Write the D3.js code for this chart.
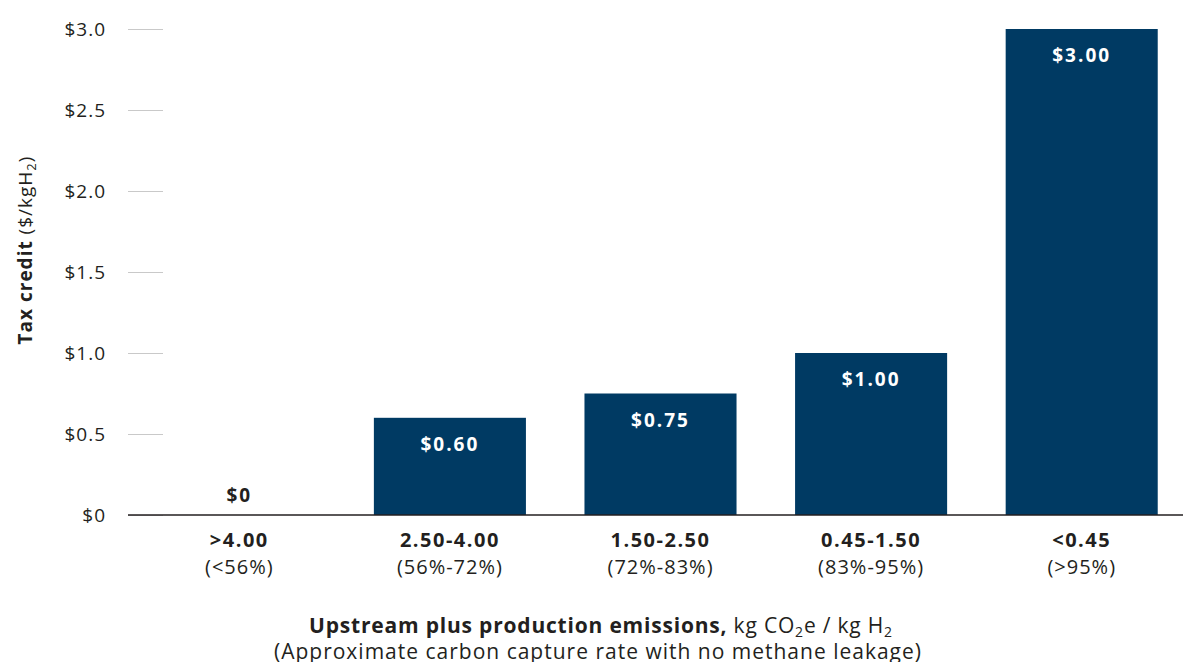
<!DOCTYPE html>
<html>
<head>
<meta charset="utf-8">
<script src="https://cdn.jsdelivr.net/npm/d3@7"></script>
<style>
  body { margin: 0; background: #fff; }
  svg text { font-family: "Open Sans", "Noto Sans", sans-serif; fill: #231f20; }
</style>
</head>
<body>
<div class="chart"></div>
<script>
// data
var emissions = [">4.00", "2.50-4.00", "1.50-2.50", "0.45-1.50", "<0.45"];
var captureRates = ["(<56%)", "(56%-72%)", "(72%-83%)", "(83%-95%)", "(>95%)"];
var credits = [0, 0.60, 0.75, 1.00, 3.00];
var creditLabels = ["$0", "$0.60", "$0.75", "$1.00", "$3.00"];
var yTicks = [0, 0.5, 1.0, 1.5, 2.0, 2.5, 3.0];

var width = 1183,
    height = 662;

var svg = d3.select(".chart")
    .append("svg")
    .attr("width", width)
    .attr("height", height)

var x = d3.scaleBand()
    .domain(emissions)
    .range([134, 1187])
    .paddingInner(0.278)
    .paddingOuter(0.139)

var y = d3.scaleLinear()
    .domain([0, 3])
    .range([515, 29])

// y axis: short grey tick marks, no domain line
var yAxis = svg.append("g")
    .attr("transform", "translate(163,0)")
    .call(d3.axisLeft(y)
        .tickValues(yTicks)
        .tickSizeInner(35)
        .tickSizeOuter(0)
        .tickPadding(22)
        .tickFormat(function (d) { return d == 0 ? "$0" : "$" + d.toFixed(1); }))
yAxis.select(".domain").remove()
yAxis.selectAll(".tick line").attr("stroke", "#c9c9c9").attr("stroke-width", 1.2)
yAxis.selectAll(".tick text")
    .attr("font-size", 19)
    .attr("fill", "#231f20")
    .attr("dy", "0.35em")
    .style("letter-spacing", "1px")

svg.append("g")
    .selectAll("rect")
    .data(credits)
    .enter()
    .append("rect")
    .attr("x", function (d, i) { return x(emissions[i]); })
    .attr("width", x.bandwidth())
    .attr("y", function (d) { return y(d); })
    .attr("height", function (d) { return y(0) - y(d); })
    .attr("fill", "#003a63")

// baseline
svg.append("line")
    .attr("x1", 128)
    .attr("x2", width)
    .attr("y1", y(0))
    .attr("y2", y(0))
    .attr("stroke", "#231f20")
    .attr("stroke-width", 1.3)

// value labels
svg.append("g")
    .selectAll("text")
    .data(credits)
    .enter()
    .append("text")
    .attr("x", function (d, i) { return x(emissions[i]) + x.bandwidth() / 2; })
    .attr("y", function (d) { return d > 0 ? y(d) + 33 : y(0) - 13; })
    .attr("text-anchor", "middle")
    .attr("font-size", 19)
    .attr("font-weight", 700)
    .style("fill", function (d) { return d > 0 ? "#fff" : "#231f20"; })
    .style("letter-spacing", "2px")
    .text(function (d, i) { return creditLabels[i]; })

// category labels
var cats = svg.append("g")
    .selectAll("g")
    .data(emissions)
    .enter()
    .append("g")
    .attr("transform", function (d) { return "translate(" + (x(d) + x.bandwidth() / 2) + ",0)"; })
cats.append("text")
    .attr("y", 547)
    .attr("text-anchor", "middle")
    .attr("font-size", 20)
    .attr("font-weight", 700)
    .style("letter-spacing", "1.5px")
    .text(function (d) { return d; })
cats.append("text")
    .attr("y", 574)
    .attr("text-anchor", "middle")
    .attr("font-size", 20)
    .style("letter-spacing", "1px")
    .text(function (d, i) { return captureRates[i]; })

// x axis title
var xt = svg.append("text")
    .attr("x", 601)
    .attr("y", 633)
    .attr("text-anchor", "middle")
    .attr("font-size", 21)
    .style("letter-spacing", "0.8px")
xt.append("tspan").attr("font-weight", 700).text("Upstream plus production emissions,")
xt.append("tspan").text(" kg CO")
xt.append("tspan").attr("font-size", 14).attr("dy", 4).text("2")
xt.append("tspan").attr("dy", -4).text("e / kg H")
xt.append("tspan").attr("font-size", 14).attr("dy", 4).text("2")

svg.append("text")
    .attr("x", 598)
    .attr("y", 659)
    .attr("text-anchor", "middle")
    .attr("font-size", 21)
    .style("letter-spacing", "1px")
    .text("(Approximate carbon capture rate with no methane leakage)")

// y axis title
var yt = svg.append("text")
    .attr("transform", "translate(32,250) rotate(-90)")
    .attr("text-anchor", "middle")
    .attr("font-size", 19)
    .style("letter-spacing", "1px")
yt.append("tspan").attr("font-weight", 700).text("Tax credit")
yt.append("tspan").text(" ($/kgH")
yt.append("tspan").attr("font-size", 13).attr("dy", 4).text("2")
yt.append("tspan").attr("dy", -4).text(")")
</script>
</body>
</html>
